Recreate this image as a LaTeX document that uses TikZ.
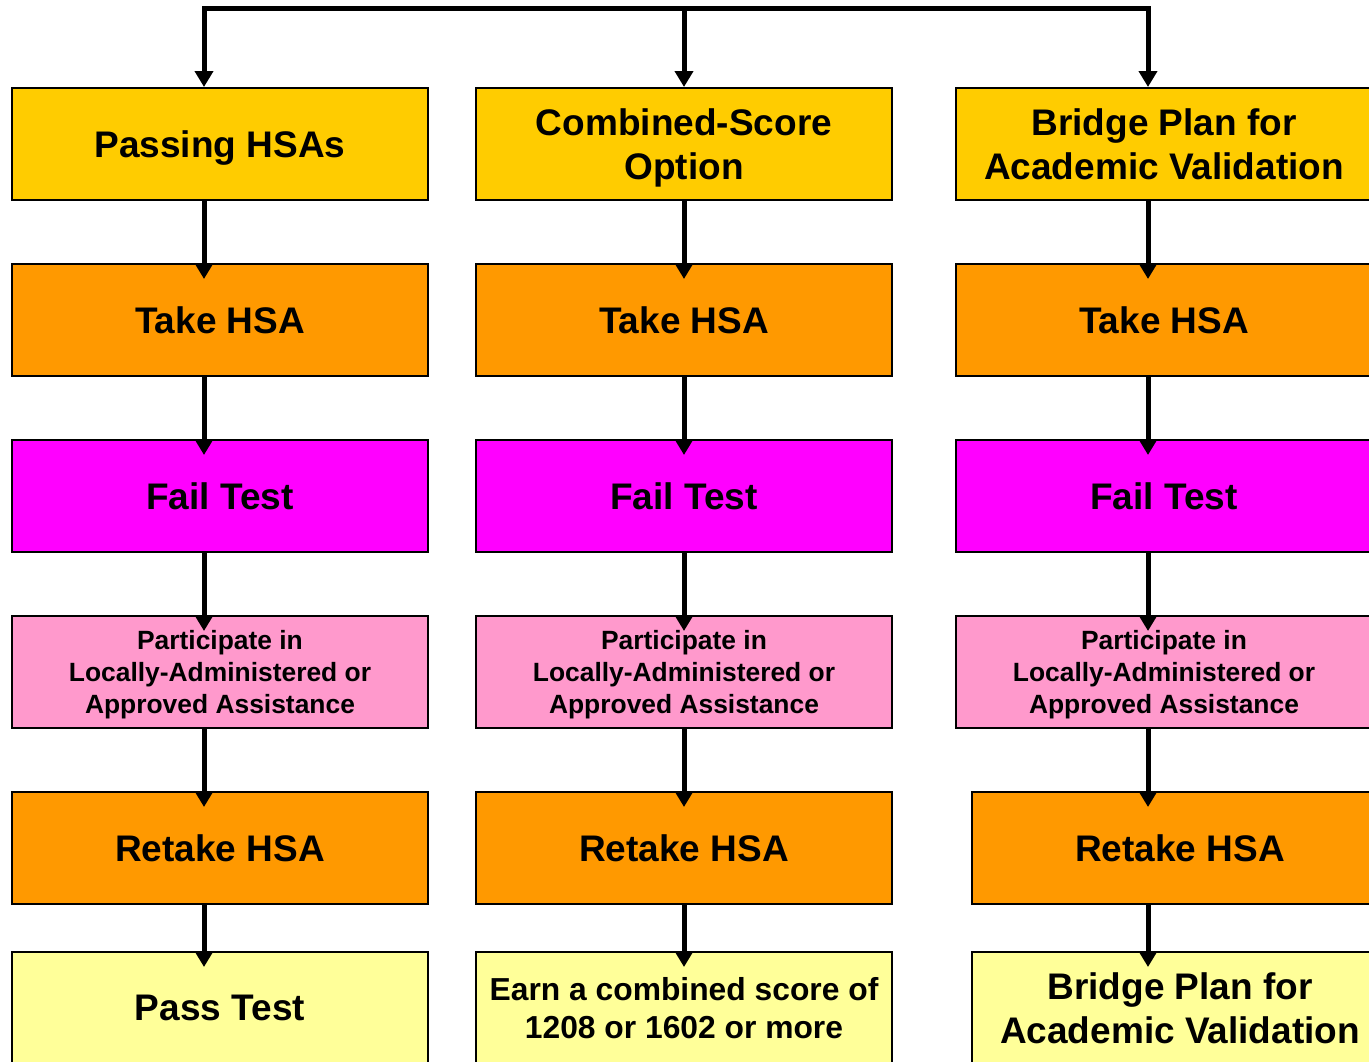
\documentclass[tikz,border=0pt]{standalone}
\usepackage{fontspec}
\setmainfont{Liberation Sans}
\usetikzlibrary{arrows.meta}
\definecolor{goldbox}{HTML}{FFCC00}
\definecolor{orangebox}{HTML}{FF9900}
\definecolor{magentabox}{HTML}{FF00FF}
\definecolor{pinkbox}{HTML}{FF99CC}
\definecolor{paleyellow}{HTML}{FFFF99}

\begin{document}
\begin{tikzpicture}[x=0.5pt, y=-0.5pt,
    box/.style={draw=black, line width=1pt, minimum width=208pt, minimum height=56pt,
        align=center, inner sep=0pt, text depth=0pt, font=\fontsize{18.5}{22}\selectfont\bfseries},
    smallbox/.style={box, font=\fontsize{13.2}{16}\selectfont\bfseries},
    arr/.style={line width=2.5pt, -{Triangle[width=9pt,length=8pt]}}]
    \useasboundingbox (0,0) rectangle (1369,1061);
    \clip (0,0) rectangle (1369,1061);

    % Options (top row)
    \node[box, fill=goldbox] (passing) at (220,144) {Passing HSAs};
    \node[box, fill=goldbox] (combined) at (684,144) {Combined-Score\\Option};
    \node[box, fill=goldbox] (bridge) at (1164,144) {Bridge Plan for\\Academic Validation};

    % Take HSA
    \node[box, fill=orangebox] (take1) at (220,320) {Take HSA};
    \node[box, fill=orangebox] (take2) at (684,320) {Take HSA};
    \node[box, fill=orangebox] (take3) at (1164,320) {Take HSA};

    % Fail test
    \node[box, fill=magentabox] (fail1) at (220,496) {Fail Test};
    \node[box, fill=magentabox] (fail2) at (684,496) {Fail Test};
    \node[box, fill=magentabox] (fail3) at (1164,496) {Fail Test};

    % Assistance
    \node[smallbox, fill=pinkbox] (assist1) at (220,672) {Participate in\\Locally-Administered or\\Approved Assistance};
    \node[smallbox, fill=pinkbox] (assist2) at (684,672) {Participate in\\Locally-Administered or\\Approved Assistance};
    \node[smallbox, fill=pinkbox] (assist3) at (1164,672) {Participate in\\Locally-Administered or\\Approved Assistance};

    % Retake HSA
    \node[box, fill=orangebox] (retake1) at (220,848) {Retake HSA};
    \node[box, fill=orangebox] (retake2) at (684,848) {Retake HSA};
    \node[box, fill=orangebox] (retake3) at (1180,848) {Retake HSA};

    % Outcomes (bottom row)
    \node[box, fill=paleyellow] (pass) at (220,1008) {Pass Test};
    \node[box, fill=paleyellow, font=\fontsize{15.9}{19}\selectfont\bfseries] (score) at (684,1008) {Earn a combined score of\\1208 or 1602 or more};
    \node[box, fill=paleyellow] (validation) at (1180,1008) {Bridge Plan for\\Academic Validation};

    % Top connector
    \coordinate (top) at (684,8);
    \draw[arr] (top) -| ([xshift=-8pt]passing.north);
    \draw[arr] (top) -- (combined.north);
    \draw[arr] (top) -| ([xshift=-8pt]bridge.north);

    % First column
    \draw[arr] ([xshift=-8pt]passing.south) -- ([shift={(-8pt,-8pt)}]take1.north);
    \draw[arr] ([xshift=-8pt]take1.south) -- ([shift={(-8pt,-8pt)}]fail1.north);
    \draw[arr] ([xshift=-8pt]fail1.south) -- ([shift={(-8pt,-8pt)}]assist1.north);
    \draw[arr] ([xshift=-8pt]assist1.south) -- ([shift={(-8pt,-8pt)}]retake1.north);
    \draw[arr] ([xshift=-8pt]retake1.south) -- ([shift={(-8pt,-8pt)}]pass.north);

    % Second column
    \draw[arr] (combined.south) -- ([yshift=-8pt]take2.north);
    \draw[arr] (take2.south) -- ([yshift=-8pt]fail2.north);
    \draw[arr] (fail2.south) -- ([yshift=-8pt]assist2.north);
    \draw[arr] (assist2.south) -- ([yshift=-8pt]retake2.north);
    \draw[arr] (retake2.south) -- ([yshift=-8pt]score.north);

    % Third column
    \draw[arr] ([xshift=-8pt]bridge.south) -- ([shift={(-8pt,-8pt)}]take3.north);
    \draw[arr] ([xshift=-8pt]take3.south) -- ([shift={(-8pt,-8pt)}]fail3.north);
    \draw[arr] ([xshift=-8pt]fail3.south) -- ([shift={(-8pt,-8pt)}]assist3.north);
    \draw[arr] ([xshift=-8pt]assist3.south) -- ([shift={(-16pt,-8pt)}]retake3.north);
    \draw[arr] ([xshift=-16pt]retake3.south) -- ([shift={(-16pt,-8pt)}]validation.north);
\end{tikzpicture}
\end{document}
